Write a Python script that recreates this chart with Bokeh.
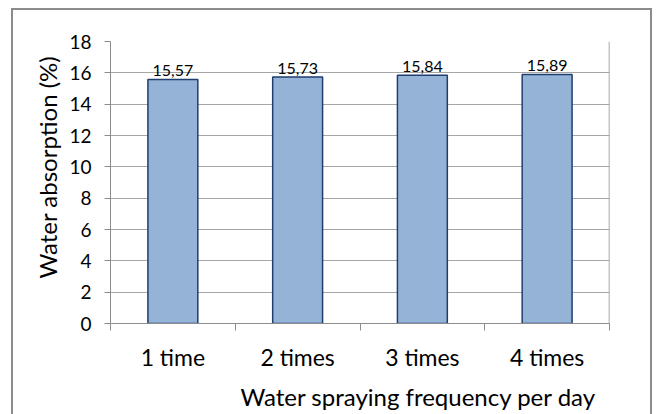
from bokeh.plotting import figure
from bokeh.models import Range1d, FixedTicker, Title, ColumnDataSource, Span
from bokeh.core.properties import value
from bokeh.embed import file_html
from bokeh.resources import INLINE

categories = ["1 time", "2 times", "3 times", "4 times"]
values = [15.57, 15.73, 15.84, 15.89]
value_labels = ["15,57", "15,73", "15,84", "15,89"]
y_ticks = [0, 2, 4, 6, 8, 10, 12, 14, 16, 18]
x_title = "Water spraying frequency per day"
y_title = "Water absorption (%)"

FONT = "Lato"
GRAY = "#8C8C8C"

p = figure(width=641, height=414, output_backend="svg", toolbar_location=None,
           x_range=Range1d(0, len(categories)), y_range=Range1d(0, 18),
           min_border_left=97, min_border_right=45, min_border_top=31, min_border_bottom=101,
           styles={"margin-left": "11px", "margin-top": "8px",
                   "border-left": "2px solid #8C8C8C", "border-top": "2px solid #8C8C8C",
                   "border-right": "2px solid #8C8C8C"})
p.background_fill_color = "white"
p.border_fill_color = "white"
p.outline_line_color = None

xs = [i + 0.5 for i in range(len(categories))]
src = ColumnDataSource(dict(x=xs, top=values, lab=value_labels))
p.vbar(x="x", top="top", width=0.4, source=src, fill_color="#95B3D7",
       line_color="#1F3D6E", line_width=1.5)
p.text(x="x", y="top", text="lab", source=src, text_align="center",
       text_baseline="alphabetic", y_offset=-9, text_font_size="16px",
       text_font=value(FONT), text_color="#000000")

p.add_layout(Span(location=len(categories), dimension="height", line_color=GRAY, line_width=1.5))

# y axis
p.yaxis.ticker = FixedTicker(ticks=y_ticks)
p.yaxis.axis_line_color = GRAY
p.yaxis.major_tick_line_color = GRAY
p.yaxis.major_tick_in = 0
p.yaxis.major_tick_out = 6
p.yaxis.minor_tick_line_color = None
p.yaxis.major_label_text_font = FONT
p.yaxis.major_label_text_font_size = "19px"
p.yaxis.major_label_text_color = "#000000"
p.yaxis.major_label_standoff = 13

# x axis
p.xaxis.ticker = FixedTicker(ticks=xs, minor_ticks=list(range(len(categories) + 1)))
p.xaxis.major_label_overrides = {x: c for x, c in zip(xs, categories)}
p.xaxis.axis_line_color = GRAY
p.xaxis.major_tick_line_color = None
p.xaxis.minor_tick_line_color = GRAY
p.xaxis.minor_tick_in = 0
p.xaxis.minor_tick_out = 7
p.xaxis.major_label_text_font = FONT
p.xaxis.major_label_text_font_size = "23px"
p.xaxis.major_label_text_color = "#000000"
p.xaxis.major_label_standoff = 12

p.xgrid.grid_line_color = None
p.ygrid.ticker = FixedTicker(ticks=y_ticks)
p.ygrid.grid_line_color = "#A6A6A6"
p.ygrid.grid_line_width = 1.2

# axis titles
p.add_layout(Title(text=x_title, align="left", offset=130, standoff=12,
                   text_font=FONT, text_font_size="24px", text_font_style="normal",
                   text_color="#000000"), "below")
p.add_layout(Title(text=y_title, align="left", offset=45, standoff=10,
                   text_font=FONT, text_font_size="24px", text_font_style="normal",
                   text_color="#000000"), "left")

open("out.html", "w").write(file_html(p, INLINE))
